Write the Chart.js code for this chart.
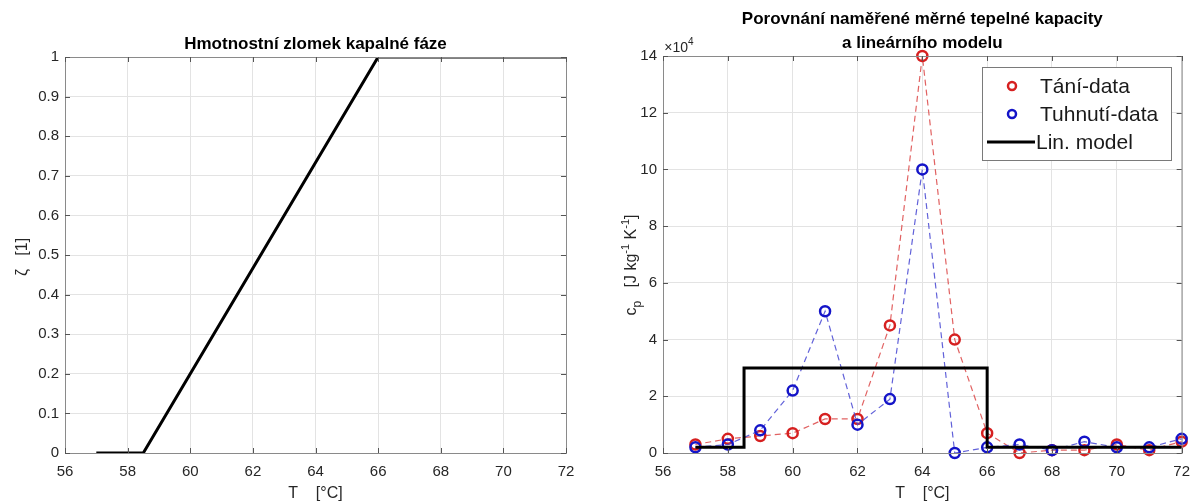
<!DOCTYPE html>
<html>
<head>
<meta charset="utf-8">
<script src="https://cdn.jsdelivr.net/npm/chart.js@4.4.1/dist/chart.umd.min.js"></script>
<style>
  html, body { margin: 0; padding: 0; background: #fff; }
  .wrap { position: absolute; top: 0; width: 600px; height: 504px; }
  #left-wrap { left: 0; }
  #right-wrap { left: 600px; }
</style>
</head>
<body>
<div class="wrap" id="left-wrap"><canvas id="left-chart" width="600" height="504"></canvas></div>
<div class="wrap" id="right-wrap"><canvas id="right-chart" width="600" height="504"></canvas></div>
<script>
// Left: liquid fraction vs temperature
const zetaT = [57, 58.5, 66, 72];
const zetaVals = [0, 0, 1, 1];

// Right: measured heat capacity (J/kg/K)
const tempsT = [57, 58, 59, 60, 61, 62, 63, 64, 65, 66, 67, 68, 69, 70, 71, 72];
const taniData = [3000, 5000, 6000, 7000, 12000, 12000, 45000, 140000, 40000, 7000, 0, 1000, 1000, 3000, 1000, 4000];
const tuhnutiData = [2000, 3000, 8000, 22000, 50000, 10000, 19000, 100000, 0, 2000, 3000, 1000, 4000, 2000, 2000, 5000];

// Linear model step breakpoints
const modelT = [57, 58.5, 66, 72];
const modelVals = [2000, 30000, 2000, 2000];

const xTicks = [56, 58, 60, 62, 64, 66, 68, 70, 72];

const FONT = "'Liberation Sans', Arial, sans-serif";
const TXT = "#262626";
const GRID = "#e3e3e3";
const AXIS = "#8a8a8a";

// draws title, axis labels, inward tick marks and the plot box
function decorPlugin(opts) {
  return {
    id: "decor",
    afterDraw(chart) {
      const ctx = chart.ctx;
      const a = chart.chartArea;
      const xs = chart.scales.x, ys = chart.scales.y;
      ctx.save();
      ctx.strokeStyle = AXIS;
      ctx.lineWidth = 1;
      ctx.strokeRect(a.left + 0.5, a.top + 0.5, a.right - a.left, a.bottom - a.top);

      // MATLAB style ticks pointing inside
      ctx.strokeStyle = "#555";
      ctx.beginPath();
      xs.ticks.forEach(t => {
        const px = Math.round(xs.getPixelForValue(t.value)) + 0.5;
        ctx.moveTo(px, a.bottom); ctx.lineTo(px, a.bottom - 5);
        ctx.moveTo(px, a.top); ctx.lineTo(px, a.top + 5);
      });
      ys.ticks.forEach(t => {
        const py = Math.round(ys.getPixelForValue(t.value)) + 0.5;
        ctx.moveTo(a.left, py); ctx.lineTo(a.left + 5, py);
        ctx.moveTo(a.right, py); ctx.lineTo(a.right - 5, py);
      });
      ctx.stroke();

      ctx.fillStyle = "#000";
      ctx.font = "bold 17px " + FONT;
      ctx.textAlign = "center";
      ctx.textBaseline = "middle";
      opts.title.forEach((line, i) => {
        ctx.fillText(line, (a.left + a.right) / 2, opts.titleY + i * 24);
      });

      ctx.fillStyle = TXT;
      ctx.font = "16px " + FONT;
      ctx.fillText("T    [°C]", (a.left + a.right) / 2, 494);

      opts.yTitle(ctx, a);
      ctx.restore();
    }
  };
}

function makeXScale() {
  return {
    type: "linear",
    min: 56, max: 72,
    afterBuildTicks: s => { s.ticks = xTicks.map(v => ({ value: v })); },
    afterFit: s => { s.height = 51; },
    grid: { color: GRID, drawTicks: false },
    border: { color: AXIS },
    ticks: { color: TXT, font: { family: FONT, size: 15 }, padding: 10 }
  };
}

new Chart(document.getElementById("left-chart"), {
  type: "line",
  data: {
    datasets: [{
      data: zetaT.map((t, i) => ({ x: t, y: zetaVals[i] })),
      borderColor: "#000",
      borderWidth: 3,
      pointRadius: 0,
      tension: 0
    }]
  },
  options: {
    responsive: false,
    animation: false,
    layout: { padding: { top: 57, right: 34, left: 0, bottom: 0 } },
    plugins: { legend: { display: false }, tooltip: { enabled: false } },
    scales: {
      x: makeXScale(),
      y: {
        min: 0, max: 1,
        ticks: {
          stepSize: 0.1, color: TXT, font: { family: FONT, size: 15 }, padding: 6,
          callback: v => String(+v.toFixed(1))
        },
        afterFit: s => { s.width = 65; },
        grid: { color: GRID, drawTicks: false },
        border: { color: AXIS }
      }
    }
  },
  plugins: [decorPlugin({
    title: ["Hmotnostní zlomek kapalné fáze"],
    titleY: 44,
    yTitle(ctx, a) {
      ctx.save();
      ctx.translate(23, 257);
      ctx.rotate(-Math.PI / 2);
      ctx.font = "16px " + FONT;
      ctx.fillStyle = TXT;
      ctx.textAlign = "center";
      ctx.fillText("ζ   [1]", 0, 0);
      ctx.restore();
    }
  })]
});

// y title with sub/superscripts, drawn piecewise
function richText(ctx, parts, x, y) {
  let total = 0;
  parts.forEach(p => {
    ctx.font = (p.sz || 16) + "px " + FONT;
    total += ctx.measureText(p.t).width;
  });
  let cx = x - total / 2;
  ctx.textAlign = "left";
  parts.forEach(p => {
    ctx.font = (p.sz || 16) + "px " + FONT;
    ctx.fillText(p.t, cx, y + (p.dy || 0));
    cx += ctx.measureText(p.t).width;
  });
}

const legendPlugin = {
  id: "boxLegend",
  afterDraw(chart) {
    const ctx = chart.ctx;
    const x0 = 382, y0 = 67, w = 189, h = 93;
    ctx.save();
    ctx.fillStyle = "#fff";
    ctx.fillRect(x0, y0, w, h);
    ctx.strokeStyle = "#7a7a7a";
    ctx.lineWidth = 1;
    ctx.strokeRect(x0 + 0.5, y0 + 0.5, w, h);
    const rows = [
      { label: "Tání-data", color: "#d62020", y: 86 },
      { label: "Tuhnutí-data", color: "#1414c8", y: 114 }
    ];
    rows.forEach(r => {
      ctx.beginPath();
      ctx.arc(412, r.y, 4, 0, Math.PI * 2);
      ctx.strokeStyle = r.color;
      ctx.lineWidth = 2.5;
      ctx.stroke();
    });
    ctx.beginPath();
    ctx.moveTo(387, 142);
    ctx.lineTo(435, 142);
    ctx.strokeStyle = "#000";
    ctx.lineWidth = 3;
    ctx.stroke();
    ctx.fillStyle = "#1a1a1a";
    ctx.font = "21px " + FONT;
    ctx.textAlign = "left";
    ctx.textBaseline = "middle";
    ctx.fillText("Tání-data", 440, 87);
    ctx.fillText("Tuhnutí-data", 440, 115);
    ctx.fillText("Lin. model", 436, 143);
    ctx.restore();
  }
};

new Chart(document.getElementById("right-chart"), {
  type: "line",
  data: {
    datasets: [
      {
        label: "Lin. model",
        data: modelT.map((t, i) => ({ x: t, y: modelVals[i] })),
        borderColor: "#000",
        borderWidth: 3,
        pointRadius: 0,
        stepped: "before",
        order: 0
      },
      {
        label: "Tání-data",
        data: tempsT.map((t, i) => ({ x: t, y: taniData[i] })),
        borderColor: "rgba(220,70,70,0.85)",
        borderWidth: 1.2,
        borderDash: [6, 4],
        pointRadius: 5,
        pointBorderWidth: 2.5,
        pointBorderColor: "#d62020",
        pointBackgroundColor: "rgba(0,0,0,0)",
        tension: 0,
        order: 2
      },
      {
        label: "Tuhnutí-data",
        data: tempsT.map((t, i) => ({ x: t, y: tuhnutiData[i] })),
        borderColor: "rgba(70,70,210,0.85)",
        borderWidth: 1.2,
        borderDash: [6, 4],
        pointRadius: 5,
        pointBorderWidth: 2.5,
        pointBorderColor: "#1414c8",
        pointBackgroundColor: "rgba(0,0,0,0)",
        tension: 0,
        order: 1
      }
    ]
  },
  options: {
    responsive: false,
    animation: false,
    clip: false,
    layout: { padding: { top: 56, right: 17, left: 0, bottom: 0 } },
    plugins: { legend: { display: false }, tooltip: { enabled: false } },
    scales: {
      x: makeXScale(),
      y: {
        min: 0, max: 140000,
        ticks: {
          stepSize: 20000, color: TXT, font: { family: FONT, size: 15 }, padding: 6,
          callback: v => String(v / 10000)
        },
        afterFit: s => { s.width = 63; },
        grid: { color: GRID, drawTicks: false },
        border: { color: AXIS }
      }
    }
  },
  plugins: [decorPlugin({
    title: ["Porovnání naměřené měrné tepelné kapacity", "a lineárního modelu"],
    titleY: 19,
    yTitle(ctx, a) {
      ctx.save();
      ctx.fillStyle = TXT;
      ctx.textBaseline = "alphabetic";
      // exponent marker above axis
      richText(ctx, [{ t: "×10", sz: 14 }, { t: "4", sz: 10, dy: -7 }], a.left + 16, 52);
      ctx.translate(36, 265);
      ctx.rotate(-Math.PI / 2);
      richText(ctx, [
        { t: "c" }, { t: "p", sz: 12, dy: 5 },
        { t: "   [J kg" }, { t: "-1", sz: 11, dy: -7 },
        { t: " K" }, { t: "-1", sz: 11, dy: -7 }, { t: "]" }
      ], 0, 0);
      ctx.restore();
    }
  }), legendPlugin]
});
</script>
</body>
</html>
